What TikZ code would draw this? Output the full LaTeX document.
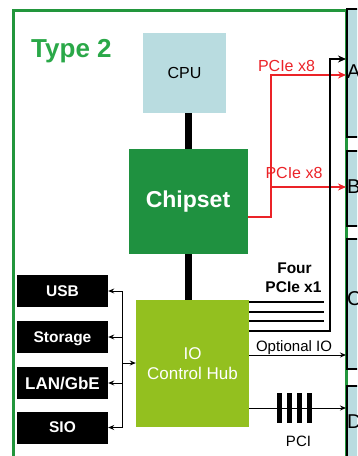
\documentclass[tikz,border=0pt]{standalone}
\usepackage{fontspec}
\setmainfont{Liberation Sans}
\usetikzlibrary{arrows.meta}
\definecolor{cpublue}{RGB}{185,220,224}
\definecolor{chipgreen}{RGB}{31,145,64}
\definecolor{iochgreen}{RGB}{147,192,31}
\definecolor{framegreen}{RGB}{34,150,60}
\definecolor{typegreen}{RGB}{42,168,72}
\definecolor{pciered}{RGB}{235,35,40}
\tikzset{
  fs/.style={font=\fontsize{#1}{#1}\selectfont},
  frameline/.style={draw=framegreen,line width=3pt},
  cpubox/.style={fill=cpublue,inner sep=0pt,minimum width=83pt,minimum height=80pt,fs=16},
  chipbox/.style={fill=chipgreen,inner sep=0pt,minimum width=119pt,minimum height=105pt},
  iochbox/.style={fill=iochgreen,inner sep=0pt,minimum width=113pt,minimum height=127pt,text=white,align=center,font=\fontsize{17}{20}\selectfont},
  leftbox/.style={fill=black,inner sep=0pt,minimum width=91pt,minimum height=32pt,text=white,text depth=0pt,font=\bfseries\fontsize{15.5}{15.5}\selectfont},
  rbox/.style={draw=black,fill=cpublue,line width=2pt,inner sep=0pt,minimum width=30pt,anchor=north west},
  rlabel/.style={anchor=base west,inner sep=0pt,fs=20},
  busbar/.style={line width=7pt,black},
  redline/.style={draw=pciered,line width=2pt,-{Stealth[length=8pt,width=7pt]}},
  x1line/.style={draw=black,line width=2pt},
  thinarrow/.style={draw=black,line width=1pt,-{Stealth[length=6pt,width=5pt]}},
  redlabel/.style={text=pciered,inner sep=0pt,fs=16},
  blabel/.style={inner sep=0pt,fs=15,text depth=0pt}
}
\begin{document}
\begin{tikzpicture}[x=1pt,y=-1pt]
\useasboundingbox (0,0) rectangle (357,456);
\clip (0,0) rectangle (357,456);
% frame
\draw[frameline] (13,470) -- (13,10) -- (346,10) -- (346,470);
% right column boxes
\node[rbox,minimum height=128pt] (ba) at (346,8) {};
\node[rbox,minimum height=75pt] (bb) at (346,150) {};
\node[rbox,minimum height=130pt] (bc) at (346,238) {};
\node[rbox,minimum height=90pt] (bd) at (346,385) {};
\node[rlabel] (la) at (347,78) {A};
\node[rlabel] (lb) at (347,193) {B};
\node[rlabel] (lc) at (347,305) {C};
\node[rlabel] (ld) at (347,428) {D};
% title
\node[anchor=base west,inner sep=0pt,text=typegreen,font=\bfseries\fontsize{26}{26}\selectfont] (type) at (31,57) {Type 2};
% main blocks
\node[cpubox] (cpu) at (184.5,73) {CPU};
\node[chipbox] (chipset) at (188,201.5) {};
\node[anchor=base,inner sep=0pt,text=white,font=\bfseries\fontsize{23}{23}\selectfont] (chiplabel) at (chipset.center |- 0,207) {Chipset};
\node[iochbox] (ioch) at (192.5,363.5) {IO\\Control Hub};
\draw[busbar] (chipset.north |- cpu.south) -- (chipset.north);
\draw[busbar] (chipset.south) -- (chipset.south |- ioch.north);
% left boxes
\node[leftbox] (usb) at (62.5,291) {USB};
\node[leftbox] (stor) at (62.5,337) {Storage};
\node[leftbox,font=\bfseries\fontsize{17}{17}\selectfont] (lan) at (62.5,383) {LAN/GbE};
\node[leftbox] (sio) at (62.5,427.5) {SIO};
\coordinate (bus) at (122,363);
\draw[line width=1pt] (usb.east -| bus) -- (sio.east -| bus);
\foreach \n in {usb,stor,lan,sio} \draw[thinarrow] (\n.east -| bus) -- (\n.east);
\draw[thinarrow] (bus) -- (ioch.west |- bus);
% PCIe x8
\draw[redline] (chipset.east |- 0,217) -| (271,75) -- (ba.west |- 0,75);
\draw[redline] (271,187) -- (bb.west |- 0,187);
\node[redlabel] (x8a) at (286.5,66) {PCIe x8};
\node[redlabel] (x8b) at (294,172.5) {PCIe x8};
% Four PCIe x1
\foreach \y in {302,312,321} \draw[x1line] (ioch.east |- 0,\y) -- (324,\y);
\draw[x1line,-{Stealth[length=8pt,width=7pt]}] (ioch.east |- 0,331) -- (330,331) -- (330,59) -- (ba.west |- 0,59);
\node[inner sep=0pt,font=\bfseries\fontsize{15.5}{15.5}\selectfont] (four) at (294.5,268.5) {Four};
\node[inner sep=0pt,font=\bfseries\fontsize{15.5}{15.5}\selectfont] (x1) at (293.5,287.5) {PCIe x1};
% Optional IO
\draw[thinarrow] (ioch.east |- 0,355) -- (bc.west |- 0,355);
\node[blabel] (opt) at (294,346.5) {Optional IO};
% PCI
\draw[thinarrow] (ioch.east |- 0,408) -- (bd.west |- 0,408);
\foreach \x in {279.5,289.5,299.5,309.5} \fill[black] (\x-2.5,393) rectangle (\x+2.5,423);
\node[blabel] (pci) at (298.5,441) {PCI};
\end{tikzpicture}
\end{document}
